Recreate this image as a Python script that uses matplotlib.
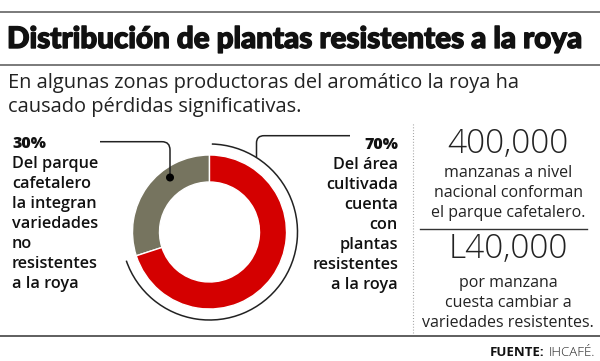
import matplotlib
matplotlib.use("Agg")
import matplotlib.pyplot as plt
import matplotlib.patheffects as pe
from matplotlib.patches import Arc, Circle, PathPatch
from matplotlib.path import Path

W, H = 600, 361

title = "Distribución de plantas resistentes a la roya"
subtitle = ["En algunas zonas productoras del aromático la roya ha",
            "causado pérdidas significativas."]
shares = [30, 70]
share_colors = ["#76745f", "#d40000"]
left_pct = "30%"
left_lines = ["Del parque", "cafetalero", "la integran", "variedades",
              "no", "resistentes", "a la roya"]
right_pct = "70%"
right_lines = ["Del área", "cultivada", "cuenta", "con", "plantas",
               "resistentes", "a la roya"]
stat1_value = "400,000"
stat1_lines = ["manzanas a nivel", "nacional conforman", "el parque cafetalero."]
stat2_value = "L40,000"
stat2_lines = ["por manzana", "cuesta cambiar a", "variedades resistentes."]
source_label = "FUENTE:"
source_value = "IHCAFÉ."

BODY = "Open Sans"
TITLE_FONT = "Lato"


def Y(y):
    # layout is measured from the top of the picture
    return H - y


fig = plt.figure(figsize=(W / 100, H / 100), dpi=100)
ax = fig.add_axes([0, 0, 1, 1])

# donut
cx, cy, r_out, r_in = 209.5, 232, 77, 50
ax.pie(shares, colors=share_colors, startangle=90, center=(cx, Y(cy)),
       radius=r_out,
       wedgeprops=dict(width=r_out - r_in, edgecolor="white", linewidth=1))
ax.set_xlim(0, W)
ax.set_ylim(0, H)
ax.set_aspect("equal")
ax.axis("off")

# thin arc around the red part
ax.add_patch(Arc((cx, Y(cy)), 2 * 88, 2 * 88, theta1=199, theta2=448.5,
                 color="#222222", lw=1.1))

# leader lines
right_leader = Path([(256.5, Y(157)), (256.5, Y(143)), (256.5, Y(135.7)),
                     (264, Y(135.7)), (350, Y(135.7))],
                    [Path.MOVETO, Path.LINETO, Path.CURVE3, Path.CURVE3, Path.LINETO])
left_leader = Path([(100, Y(141.7)), (162, Y(141.7)), (170, Y(141.7)),
                    (170, Y(150)), (170, Y(177.5))],
                   [Path.MOVETO, Path.LINETO, Path.CURVE3, Path.CURVE3, Path.LINETO])
for p in (right_leader, left_leader):
    ax.add_patch(PathPatch(p, fill=False, color="#222222", lw=1.1))
ax.add_patch(Circle((170, Y(177.5)), 3.3, color="black", zorder=5))

# rules
ax.plot([0, W], [Y(12), Y(12)], color="#7a7a7a", lw=1.4)
ax.plot([0, W], [Y(65), Y(65)], color="#7a7a7a", lw=1.4)
ax.plot([0, W], [Y(336), Y(336)], color="#333333", lw=1.1)
ax.plot([420, 587], [Y(229), Y(229)], color="#333333", lw=1.0)
ax.plot([413, 413], [Y(124), Y(333)], color="#999999", lw=0.8,
        dashes=(0.8, 1.8))

# title and subtitle
ax.text(7, Y(48), title, fontsize=21.3, fontweight="black", family=TITLE_FONT,
        color="#111111", va="baseline",
        path_effects=[pe.withStroke(linewidth=1.0, foreground="#111111")])
for i, line in enumerate(subtitle):
    ax.text(8, Y(88 + 24 * i), line, fontsize=14.4, family=BODY,
            color="#222222", va="baseline")

# donut labels
ax.text(12, Y(148), left_pct, fontsize=11.5, fontweight="extra bold",
        family=BODY, color="#111111", va="baseline")
for i, line in enumerate(left_lines):
    ax.text(12, Y(168 + 20 * i), line, fontsize=11.7, fontweight="semibold",
            family=BODY, color="#111111", va="baseline")
ax.text(398, Y(149), right_pct, fontsize=11.5, fontweight="extra bold",
        family=BODY, color="#111111", va="baseline", ha="right")
for i, line in enumerate(right_lines):
    ax.text(398, Y(169 + 20 * i), line, fontsize=11.7, fontweight="semibold",
            family=BODY, color="#111111", va="baseline", ha="right")

# right column
col_x = 508
ax.text(col_x, Y(153), stat1_value, fontsize=24, fontweight="light",
        family=BODY, color="#222222", va="baseline", ha="center")
for i, line in enumerate(stat1_lines):
    ax.text(col_x, Y(177 + 20 * i), line, fontsize=11.5, family=BODY,
            color="#222222", va="baseline", ha="center")
ax.text(col_x, Y(258), stat2_value, fontsize=24, fontweight="light",
        family=BODY, color="#222222", va="baseline", ha="center")
for i, line in enumerate(stat2_lines):
    ax.text(col_x, Y(287 + 20 * i), line, fontsize=11.5, family=BODY,
            color="#222222", va="baseline", ha="center")

ax.text(544, Y(356), source_label, fontsize=9.5, fontweight="bold",
        family=BODY, color="#111111", va="baseline", ha="right")
ax.text(595, Y(356), source_value, fontsize=9.5, fontweight="light",
        family=BODY, color="#222222", va="baseline", ha="right")

fig.savefig("out.png", dpi=100)
